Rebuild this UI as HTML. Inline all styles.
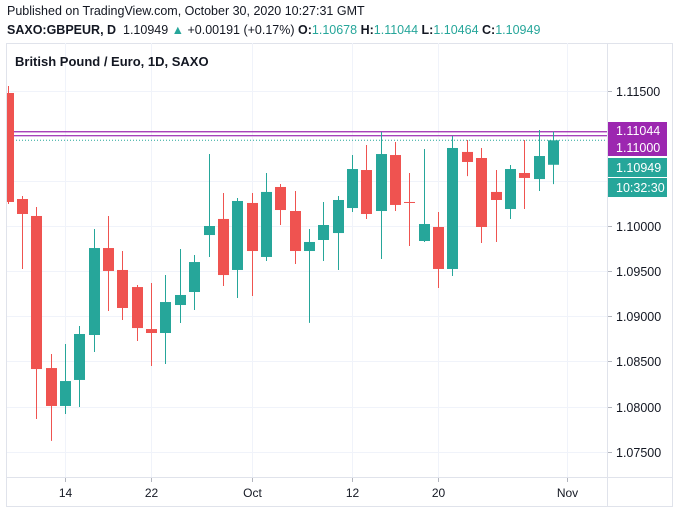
<!DOCTYPE html>
<html><head><meta charset="utf-8"><style>
body{margin:0;background:#fff;font-family:"Liberation Sans",sans-serif;}
#wrap{position:relative;width:678px;height:513px;overflow:hidden;}
.hdr{position:absolute;left:7px;font-size:12.5px;color:#131722;white-space:nowrap;}
.g{color:#26a69a}
</style></head><body>
<div id="wrap">
<div class="hdr" style="top:4px">Published on TradingView.com, October 30, 2020 10:27:31 GMT</div>
<div class="hdr" style="top:23px"><b>SAXO:GBPEUR, D</b>&nbsp; 1.10949 <span class="g">▲</span> +0.00191 (+0.17%) <b>O:</b><span class="g">1.10678</span> <b>H:</b><span class="g">1.11044</span> <b>L:</b><span class="g">1.10464</span> <b>C:</b><span class="g">1.10949</span></div>
<svg id="chart" width="678" height="513" style="position:absolute;left:0;top:0"></svg>
</div>
<script>
const dates=["Sep 8","Sep 9","Sep 10","Sep 11","Sep 14","Sep 15","Sep 16","Sep 17","Sep 18","Sep 21","Sep 22","Sep 23","Sep 24","Sep 25","Sep 28","Sep 29","Sep 30","Oct 1","Oct 2","Oct 5","Oct 6","Oct 7","Oct 8","Oct 9","Oct 12","Oct 13","Oct 14","Oct 15","Oct 16","Oct 19","Oct 20","Oct 21","Oct 22","Oct 23","Oct 26","Oct 27","Oct 28","Oct 29","Oct 30"];
const opens=[1.11473,1.10299,1.10111,1.08427,1.08007,1.08295,1.08793,1.09756,1.09513,1.09324,1.08859,1.08815,1.09125,1.09269,1.09900,1.10078,1.09513,1.10255,1.09657,1.10432,1.10166,1.09723,1.09845,1.09922,1.10199,1.10620,1.10166,1.10786,1.10266,1.09834,1.09989,1.09524,1.10820,1.10753,1.10377,1.10188,1.10587,1.10520,1.10678];
const highs=[1.11550,1.10332,1.10210,1.08583,1.08693,1.08893,1.09967,1.10111,1.09723,1.09347,1.09369,1.09457,1.09745,1.09679,1.10797,1.10365,1.10310,1.10365,1.10587,1.10465,1.10388,1.09967,1.10266,1.10332,1.10786,1.10897,1.11041,1.10930,1.10587,1.10853,1.10155,1.10997,1.10952,1.10864,1.10620,1.10675,1.10952,1.11063,1.11044];
const lows=[1.10244,1.09524,1.07863,1.07620,1.07918,1.07996,1.08605,1.09059,1.08959,1.08726,1.08450,1.08472,1.08926,1.09070,1.09657,1.09336,1.09203,1.09225,1.09612,1.10011,1.09579,1.08927,1.09612,1.09513,1.10155,1.10078,1.09635,1.10166,1.09779,1.09823,1.09313,1.09446,1.10553,1.09812,1.09823,1.10078,1.10188,1.10387,1.10464];
const closes=[1.10266,1.10133,1.08416,1.08007,1.08283,1.08804,1.09756,1.09502,1.09092,1.08870,1.08815,1.09158,1.09236,1.09601,1.10000,1.09457,1.10277,1.09723,1.10377,1.10177,1.09723,1.09823,1.10011,1.10288,1.10631,1.10133,1.10797,1.10233,1.10255,1.10022,1.09524,1.10864,1.10709,1.09989,1.10288,1.10631,1.10532,1.10775,1.10949];
const yTicks=[1.115,1.11,1.105,1.10,1.095,1.09,1.085,1.08,1.075];
const yTickLabels=["1.11500","1.11000","1.10500","1.10000","1.09500","1.09000","1.08500","1.08000","1.07500"];
const xTickIdx=[4,10,17,24,30,39];
const xTickLabels=["14","22","Oct","12","20","Nov"];
const hLines=[1.11044,1.11];
const lastPrice=1.10949;

const NS="http://www.w3.org/2000/svg";
const svg=document.getElementById('chart');
const L=7,R=607,T=43,B=477;
function y(p){return 226-(p-1.10)*9030;}
function x(i){return 7.6+i*14.35;}
function mk(tag,attrs,parent){const e=document.createElementNS(NS,tag);for(const k in attrs)e.setAttribute(k,attrs[k]);(parent||svg).appendChild(e);return e;}
// frame
let fr=mk('rect',{x:6.5,y:43.5,width:666,height:463,fill:'none',stroke:'#e0e3eb'});


// grid
yTicks.forEach((p,k)=>{
  const yy=Math.round(y(p))+0.5;
  const gl=mk('line',{x1:L,x2:R,y1:yy,y2:yy,stroke:'#f0f3fa'});
  
  
  mk('line',{x1:R,x2:R+5,y1:yy,y2:yy,stroke:'#b2b5be'});
  if(p===1.11||p===1.105||p===1.09||p===1.085||p===1.08){}
  const t=mk('text',{x:616,y:yy+4.5,'font-size':12.5,fill:'#131722'});
  t.textContent=yTickLabels[k];
  
  
});
xTickIdx.forEach((i,k)=>{
  const xx=Math.round(x(i))+0.5;
  const gl=mk('line',{x1:xx,x2:xx,y1:T,y2:B,stroke:'#f0f3fa'});
  
  
  mk('line',{x1:xx,x2:xx,y1:B,y2:B+5,stroke:'#b2b5be'});
  const t=mk('text',{x:xx,y:497,'font-size':12,fill:'#131722','text-anchor':'middle'});
  t.textContent=xTickLabels[k];
  
  
});
// axes borders
mk('line',{x1:R+0.5,x2:R+0.5,y1:T,y2:506,stroke:'#e0e3eb'});
mk('line',{x1:6,x2:672,y1:B+0.5,y2:B+0.5,stroke:'#e0e3eb'});
// title
let tt=mk('text',{x:15,y:66,'font-size':13,'font-weight':'bold',fill:'#131722'});
tt.textContent='British Pound / Euro, 1D, SAXO';


// clip
const defs=mk('defs',{});
const cp=mk('clipPath',{id:'cp'},defs);
mk('rect',{x:L,y:T,width:R-L,height:B-T},cp);
const g=mk('g',{'clip-path':'url(#cp)'});
// horizontal lines
hLines.forEach(p=>{
  const l=mk('line',{x1:L,x2:R,y1:y(p),y2:y(p),stroke:'#9c27b0','stroke-width':1.2},g);
  
  
});
let pl=mk('line',{x1:L,x2:R,y1:y(lastPrice),y2:y(lastPrice),stroke:'#26a69a','stroke-dasharray':'1 2'},g);


// candles
dates.forEach((d,i)=>{
  const up=closes[i]>=opens[i];
  const c=up?'#26a69a':'#ef5350';
  const cx=Math.round(x(i))+0.5;
  const grp=mk('g',{},g);
  
  
  mk('line',{x1:cx,x2:cx,y1:y(highs[i]),y2:y(lows[i]),stroke:c,'stroke-width':1},grp);
  const top=y(Math.max(opens[i],closes[i])),bot=y(Math.min(opens[i],closes[i]));
  mk('rect',{x:cx-5.5,y:top,width:11,height:Math.max(1,bot-top),fill:c},grp);
});
// price labels
function lab(yy,h,fill,text,name){
  const r=mk('rect',{x:608,y:yy,width:59,height:h,fill:fill});
  
  
  const t=mk('text',{x:616,y:yy+h/2+4.5,'font-size':12.5,fill:'#fff'});
  t.textContent=text;
  
  
}
lab(122,17,'#9c27b0','1.11044','level-label-high');
lab(139,17,'#9c27b0','1.11000','level-label-round');
lab(158,19,'#26a69a','1.10949','last-price-label');
lab(178,19,'#26a69a','10:32:30','countdown-label');
mk('line',{x1:608,x2:667,y1:177.5,y2:177.5,stroke:'#fff'});
</script>
</body></html>
